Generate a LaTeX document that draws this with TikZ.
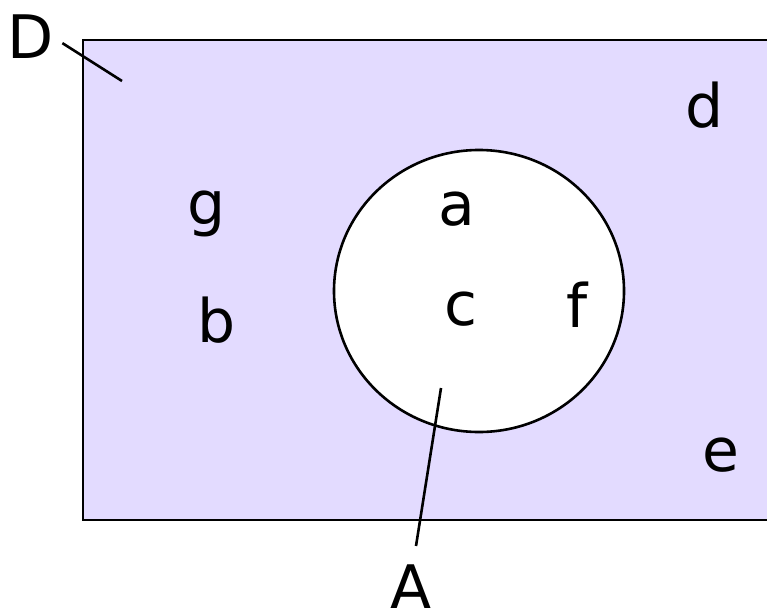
\documentclass[tikz,border=0pt]{standalone}
\usepackage{fontspec}
\setmainfont{DejaVu Sans}
\usepackage{xcolor}
\definecolor{setfill}{RGB}{227,219,255}

\begin{document}
\begin{tikzpicture}[x=1pt, y=-1pt, line width=2.6pt,
		lbl/.style={anchor=base, inner sep=0pt, font=\fontsize{60}{72}\selectfont}]
			
			\useasboundingbox (0,0) rectangle (767,610);
			
			% Universe D
			\draw[fill=setfill, draw=black] (83,40) rectangle (820,520);
			
			% Set A
			\draw[fill=white, draw=black] (479,291) ellipse (145 and 141);
			
			% elements
			\node[lbl] (g) at (207,224) {g};
			\node[lbl] (b) at (217,342) {b};
			\node[lbl] (a) at (457,225) {a};
			\node[lbl] (c) at (461,325) {c};
			\node[lbl] (f) at (577,327) {f};
			\node[lbl] (d) at (705,127) {d};
			\node[lbl] (e) at (721,471) {e};
			
			% set names
			\node[lbl] (D) at (31,58) {D};
			\node[lbl] (A) at (411,608) {A};
			
			% pointers
			\coordinate (Dtip) at (122,81);
			\coordinate (Atip) at (441,388);
			\draw ([shift={(7,7)}]D.east) -- (Dtip);
			\draw ([shift={(5,-17)}]A.north) -- (Atip);
			
		\end{tikzpicture}
\end{document}
